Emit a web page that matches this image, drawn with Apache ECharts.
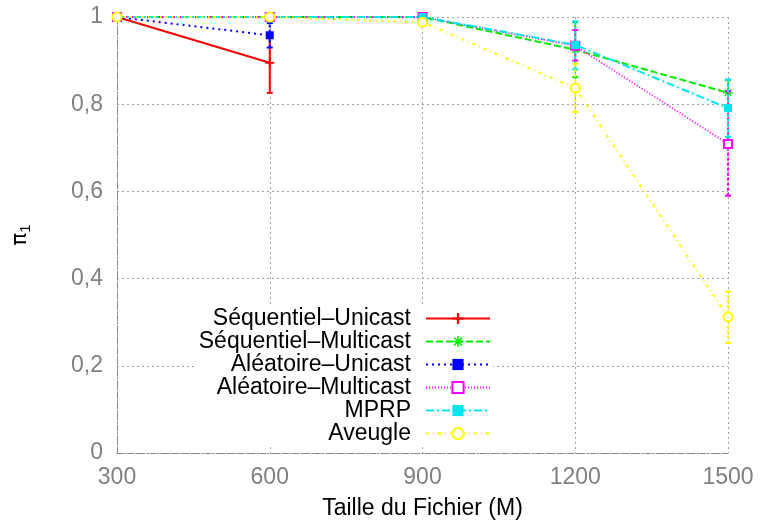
<!DOCTYPE html>
<html><head><meta charset="utf-8">
<script src="https://cdn.jsdelivr.net/npm/echarts@6/dist/echarts.min.js"></script>
<style>html,body{margin:0;padding:0;background:#fff}#c{width:759px;height:526px}</style>
</head><body><div id="c"></div>
<script>
// ---- data ----
const fileSizes = [300, 600, 900, 1200, 1500];
const seriesNames = ['Séquentiel–Unicast','Séquentiel–Multicast','Aléatoire–Unicast','Aléatoire–Multicast','MPRP','Aveugle'];
const seqUnicast   = [1, 0.895, null, null, null];
const seqMulticast = [1, 1, 1, 0.925, 0.826];
const aleUnicast   = [1, 0.958, null, null, null];
const aleMulticast = [1, 1, 1, 0.934, 0.709];
const mprp         = [1, 1, 1, 0.936, 0.791];
const aveugle      = [1, 1, 0.988, 0.837, 0.312];
// error bar bounds (low / high)
const seqUnicastLow    = [1, 0.826, null, null, null];
const seqUnicastHigh   = [1, 0.964, null, null, null];
const seqMulticastLow  = [1, 1, 1, 0.862, 0.797];
const seqMulticastHigh = [1, 1, 1, 0.988, 0.855];
const aleUnicastLow    = [1, 0.93, null, null, null];
const aleUnicastHigh   = [1, 0.986, null, null, null];
const aleMulticastLow  = [1, 1, 1, 0.90, 0.59];
const aleMulticastHigh = [1, 1, 1, 0.97, 0.83];
const mprpLow          = [1, 1, 1, 0.88, 0.725];
const mprpHigh         = [1, 1, 1, 0.99, 0.857];
const aveugleLow       = [1, 1, 0.98, 0.782, 0.252];
const aveugleHigh      = [1, 1, 0.996, 0.893, 0.37];
const yTicks = [0, 0.2, 0.4, 0.6, 0.8, 1];

const values = [seqUnicast, seqMulticast, aleUnicast, aleMulticast, mprp, aveugle];
const lows = [seqUnicastLow, seqMulticastLow, aleUnicastLow, aleMulticastLow, mprpLow, aveugleLow];
const highs = [seqUnicastHigh, seqMulticastHigh, aleUnicastHigh, aleMulticastHigh, mprpHigh, aveugleHigh];

// ---- styles ----
const colors = ['#ff0000','#00ee00','#0000ff','#ff00ff','#00e5ee','#ffff00'];
const dashes = ['solid',[7,3],[2,4],[1,2],[8,3,2,3],[3,4,1,4]];
const symbols = [
  'path://M4,0H6V10H4Z M0,4H10V6H0Z',
  'path://M4.3,0H5.7V10H4.3Z M0,4.3H10V5.7H0Z M1,2L2,1L9,8L8,9Z M8,1L9,2L2,9L1,8Z',
  'rect','emptyRect','rect','emptyCircle'];
const symSizes = [9, 9, 8, 8, 8, 9];

const chart = echarts.init(document.getElementById('c'), null, {renderer:'canvas'});
const series = [];
values.forEach((vals, i) => {
  series.push({
    name: seriesNames[i], type: 'line',
    data: fileSizes.map((x, k) => vals[k] == null ? null : [x, vals[k]]).filter(d => d),
    symbol: symbols[i], symbolSize: symSizes[i],
    showAllSymbol: true,
    lineStyle: {color: colors[i], width: 2, type: dashes[i]},
    itemStyle: {color: colors[i], borderColor: colors[i], borderWidth: (symbols[i].indexOf('empty')===0?2:0)},
    emphasis: {disabled: true},
    z: 3 + i
  });
  series.push({
    type: 'custom', name: seriesNames[i], silent: true,
    data: fileSizes.map((x, k) => lows[i][k] == null ? null : [x, lows[i][k], highs[i][k]]).filter(d => d),
    renderItem: function (params, api) {
      const x = api.value(0);
      const p1 = api.coord([x, api.value(1)]);
      const p2 = api.coord([x, api.value(2)]);
      const w = 3;
      const st = {stroke: colors[i], lineWidth: 2, lineDash: i === 0 ? null : [3, 2]};
      return {type: 'group', children: [
        {type: 'line', shape: {x1: p1[0], y1: p1[1], x2: p2[0], y2: p2[1]}, style: st},
        {type: 'line', shape: {x1: p1[0]-w, y1: p1[1], x2: p1[0]+w, y2: p1[1]}, style: {stroke: colors[i], lineWidth: 2}},
        {type: 'line', shape: {x1: p2[0]-w, y1: p2[1], x2: p2[0]+w, y2: p2[1]}, style: {stroke: colors[i], lineWidth: 2}}
      ]};
    },
    z: 3 + i
  });
});

const gridLine = {show: true, lineStyle: {color: '#a0a0a0', type: [2, 3], width: 1}};
chart.setOption({
  animation: false,
  backgroundColor: '#fff',
  grid: {left: 117, right: 31, top: 17, bottom: 73},
  legend: {
    data: seriesNames, orient: 'vertical', align: 'right',
    right: 266, top: 305, itemWidth: 64, itemHeight: 14, itemGap: 0,
    backgroundColor: '#fff', padding: [2, 2, 0, 2],
    textStyle: {fontFamily: 'Liberation Sans', fontSize: 23, lineHeight: 23, color: '#000', padding: [0, 10, 0, 0]}
  },
  xAxis: {
    type: 'value', min: 300, max: 1500, interval: 300,
    name: 'Taille du Fichier (M)', nameLocation: 'middle', nameGap: 44,
    nameTextStyle: {fontFamily: 'Liberation Sans', fontSize: 23, color: '#000'},
    axisLine: {show: true, lineStyle: {color: '#888', type: [6, 2, 1, 2]}},
    axisTick: {show: false},
    axisLabel: {fontFamily: 'Liberation Sans', fontSize: 23, color: '#808080', margin: 13,
      formatter: v => String(v)},
    splitLine: gridLine
  },
  yAxis: {
    type: 'value', min: 0, max: 1, interval: 0.2,
    name: '{a|π}{b|1}', nameLocation: 'middle', nameGap: 84, nameRotate: 90,
    nameTextStyle: {rich: {a: {fontFamily: 'DejaVu Sans', fontSize: 21, color: '#000'}, b: {fontFamily: 'Liberation Sans', fontSize: 15, color: '#000', padding: [9, 0, 0, 0]}}},
    axisLine: {show: true, lineStyle: {color: '#888', type: [6, 2, 1, 2]}},
    axisTick: {show: false},
    axisLabel: {fontFamily: 'Liberation Sans', fontSize: 23, color: '#808080', margin: 14,
      formatter: v => yTicks.indexOf(Math.round(v*10)/10) >= 0 ? String(Math.round(v*10)/10).replace('.', ',') : ''},
    splitLine: gridLine
  },
  series: series
});
</script></body></html>
